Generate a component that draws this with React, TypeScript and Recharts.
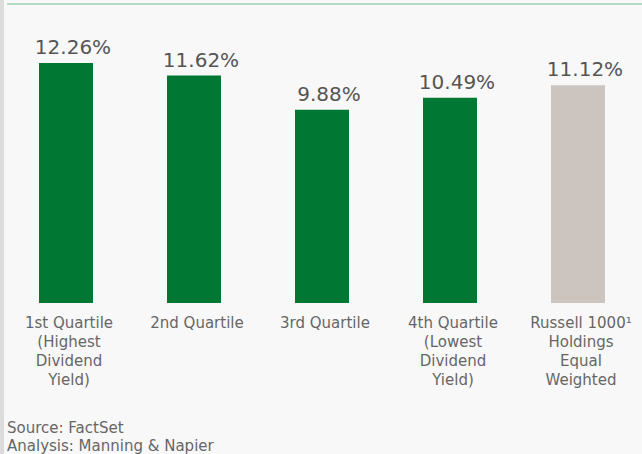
import React from 'react';
import { BarChart, Bar, XAxis, YAxis, Cell, LabelList } from 'recharts';

// Categories (line breaks as in the original axis labels)
const categories = [
  '1st Quartile\n(Highest\nDividend\nYield)',
  '2nd Quartile',
  '3rd Quartile',
  '4th Quartile\n(Lowest\nDividend\nYield)',
  'Russell 1000¹\nHoldings\nEqual\nWeighted',
];

// Values in percent
const returns = [12.26, 11.62, 9.88, 10.49, 11.12];

const sourceLines = ['Source: FactSet', 'Analysis: Manning & Napier'];

const GREEN = '#007733';
const BENCH = '#cbc4bf';
const FONT = '"DejaVu Sans", sans-serif';

const data = categories.map((name, i) => ({ name, value: returns[i] }));

// Multi-line category tick
const CategoryTick = (props: any) => {
  const { x, y, payload } = props;
  const lines = String(payload.value).split('\n');
  return (
    <text x={x + 3} y={y} textAnchor="middle" fontFamily={FONT} fontSize={15} fill="#666">
      {lines.map((line, i) => (
        <tspan key={i} x={x + 3} dy={i === 0 ? 16.5 : 19}>
          {line}
        </tspan>
      ))}
    </text>
  );
};

// Value label above each bar
const ValueLabel = (props: any) => {
  const { x, y, width, value } = props;
  return (
    <text
      x={x + width / 2 + 7}
      y={y - 9}
      textAnchor="middle"
      fontFamily={FONT}
      fontSize={20}
      fill="#555"
    >
      {`${Number(value).toFixed(2)}%`}
    </text>
  );
};

export default function App() {
  return (
    <div
      style={{
        position: 'fixed',
        left: 0,
        top: 0,
        width: 642,
        height: 454,
        background: '#f8f8f8',
        overflow: 'hidden',
      }}
    >
      {/* left border strip */}
      <div style={{ position: 'absolute', left: 0, top: 0, width: 4, height: 454, background: '#dcdcdc' }} />
      {/* top rule */}
      <div style={{ position: 'absolute', left: 7, top: 3, right: 0, height: 2, background: '#b5dbc4' }} />

      <div style={{ position: 'absolute', left: 0, top: 0 }}>
        <BarChart
          width={642}
          height={405}
          data={data}
          margin={{ top: 29, right: 0, left: 2, bottom: 0 }}
          barCategoryGap={0}
        >
          <XAxis
            dataKey="name"
            axisLine={false}
            tickLine={false}
            interval={0}
            height={102}
            tick={<CategoryTick />}
          />
          <YAxis hide domain={[0, 14]} />
          <Bar dataKey="value" barSize={54} isAnimationActive={false}>
            {data.map((d, i) => (
              <Cell key={d.name} fill={i === data.length - 1 ? BENCH : GREEN} />
            ))}
            <LabelList dataKey="value" content={<ValueLabel />} />
          </Bar>
        </BarChart>
      </div>

      <div
        style={{
          position: 'absolute',
          left: 7,
          top: 419,
          fontFamily: FONT,
          fontSize: 15,
          lineHeight: '18px',
          color: '#666',
          whiteSpace: 'nowrap',
        }}
      >
        {sourceLines.map((line) => (
          <div key={line}>{line}</div>
        ))}
      </div>
    </div>
  );
}
